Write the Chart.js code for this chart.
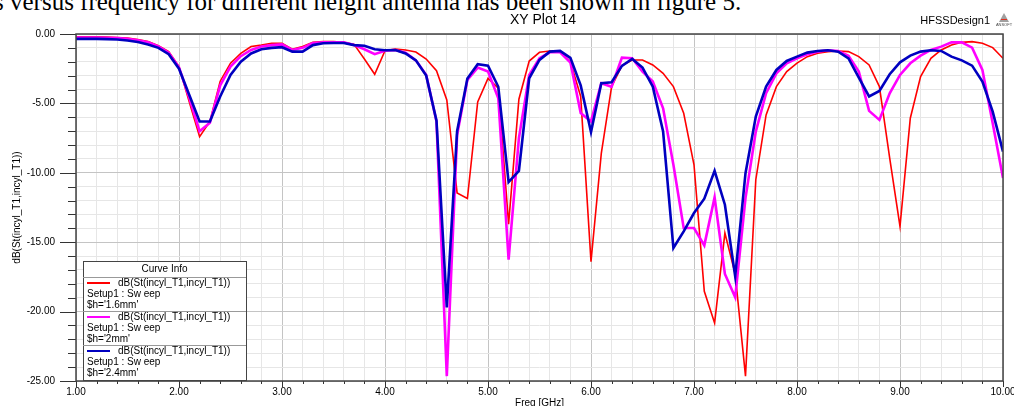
<!DOCTYPE html>
<html>
<head>
<meta charset="utf-8">
<script src="https://cdn.jsdelivr.net/npm/chart.js@4.4.1/dist/chart.umd.min.js"></script>
<style>
	html, body { margin: 0; padding: 0; background: #fff; overflow: hidden; width: 1014px; height: 406px; position: relative; }
	#caption { position: absolute; left: -6px; top: -11px; font: 25px/25px "Liberation Serif", serif; color: #000; white-space: nowrap; }
	#wrap { position: absolute; left: 0; top: 0; width: 1030px; height: 420px; }
</style>
</head>
<body>
<div id="caption">s versus frequency for different height antenna has been shown in figure 5.</div>
<div id="wrap"><canvas id="chart1" width="1030" height="420"></canvas></div>
<script>
const freq = [
	1.0, 1.1, 1.2, 1.3, 1.4, 1.5, 1.6, 1.7, 1.8, 1.9,
	2.0, 2.1, 2.2, 2.3, 2.4, 2.5, 2.6, 2.7, 2.8, 2.9,
	3.0, 3.1, 3.2, 3.3, 3.4, 3.5, 3.6, 3.7, 3.8, 3.9,
	4.0, 4.1, 4.2, 4.3, 4.4, 4.5, 4.6, 4.7, 4.8, 4.9,
	5.0, 5.1, 5.2, 5.3, 5.4, 5.5, 5.6, 5.7, 5.8, 5.9,
	6.0, 6.1, 6.2, 6.3, 6.4, 6.5, 6.6, 6.7, 6.8, 6.9,
	7.0, 7.1, 7.2, 7.3, 7.4, 7.5, 7.6, 7.7, 7.8, 7.9,
	8.0, 8.1, 8.2, 8.3, 8.4, 8.5, 8.6, 8.7, 8.8, 8.9,
	9.0, 9.1, 9.2, 9.3, 9.4, 9.5, 9.6, 9.7, 9.8, 9.9,
	10.0,
];

// h = 1.6mm
const s11_16 = [
	-0.2, -0.2, -0.2, -0.22, -0.25, -0.3, -0.4, -0.55, -0.84, -1.27,
	-2.35, -4.9, -7.4, -6.3, -3.4, -2.1, -1.4, -0.9, -0.8, -0.67,
	-0.67, -1.1, -0.9, -0.6, -0.55, -0.55, -0.6, -0.75, -1.8, -2.9,
	-1.2, -1.08, -1.15, -1.3, -1.8, -2.65, -4.75, -11.45, -11.85, -4.9,
	-3.2, -3.9, -13.7, -4.7, -1.95, -1.32, -1.22, -1.27, -2.0, -4.5,
	-16.4, -8.6, -3.8, -2.28, -1.87, -1.87, -2.23, -2.83, -3.79, -5.71,
	-9.42, -18.54, -20.82, -14.34, -17.3, -24.65, -10.5, -5.83, -3.79, -2.71,
	-2.1, -1.63, -1.39, -1.27, -1.22, -1.27, -1.63, -2.23, -3.79, -8.94,
	-13.86, -6.07, -3.07, -1.75, -1.15, -0.79, -0.6, -0.55, -0.67, -0.98,
	-1.75,
];

// h = 2mm
const s11_20 = [
	-0.25, -0.25, -0.25, -0.27, -0.3, -0.35, -0.45, -0.6, -0.9, -1.35,
	-2.4, -4.6, -7.0, -6.4, -3.7, -2.35, -1.6, -1.15, -0.9, -0.8,
	-0.75, -1.15, -1.0, -0.65, -0.6, -0.6, -0.6, -0.8, -1.1, -1.45,
	-1.2, -1.15, -1.35, -1.9, -2.95, -6.3, -24.65, -7.27, -3.3, -2.42,
	-2.7, -4.63, -16.26, -7.5, -2.95, -1.75, -1.32, -1.32, -2.05, -5.7,
	-6.3, -3.55, -3.8, -1.7, -1.75, -2.71, -3.43, -5.35, -9.42, -13.98,
	-13.98, -15.23, -11.77, -17.29, -18.97, -11.82, -7.03, -4.27, -2.83, -2.11,
	-1.75, -1.46, -1.27, -1.17, -1.22, -1.56, -2.71, -5.54, -6.19, -4.27,
	-2.95, -2.11, -1.56, -1.15, -0.91, -0.6, -0.6, -0.98, -2.59, -6.43,
	-10.38,
];

// h = 2.4mm
const s11_24 = [
	-0.35, -0.35, -0.35, -0.37, -0.4, -0.47, -0.58, -0.75, -1.0, -1.45,
	-2.5, -4.4, -6.3, -6.3, -4.5, -2.95, -2.0, -1.4, -1.1, -1.0,
	-0.95, -1.27, -1.27, -0.8, -0.67, -0.65, -0.65, -0.8, -0.85, -1.1,
	-1.17, -1.15, -1.4, -1.9, -3.0, -6.25, -19.7, -7.0, -3.2, -2.18,
	-2.28, -3.8, -10.67, -9.86, -3.19, -1.87, -1.27, -1.22, -1.72, -3.7,
	-7.07, -3.55, -3.48, -2.3, -1.8, -2.42, -3.79, -7.03, -15.42, -14.22,
	-12.9, -11.87, -9.86, -12.3, -17.46, -10.03, -5.95, -3.79, -2.59, -1.94,
	-1.63, -1.34, -1.22, -1.17, -1.27, -1.75, -3.14, -4.5, -4.1, -2.9,
	-2.04, -1.56, -1.27, -1.17, -1.22, -1.63, -1.9, -2.28, -3.43, -5.59,
	-8.47,
];

const curveNames = ["$h='1.6mm'", "$h='2mm'", "$h='2.4mm'"];
const curveColors = ["#ff0000", "#ff00ff", "#0000c0"];

const FONT = "'Liberation Sans', Arial, sans-serif";

function isWhole(v) {
	return Math.abs(v - Math.round(v)) < 1e-6;
}

function toPoints(ys) {
	return freq.map((f, i) => ({ x: f, y: ys[i] }));
}

// plot frame, outside ticks, title, logo and the "Curve Info" box
const hfssDecor = {
	id: "hfssDecor",
	afterDraw(chart) {
		const ctx = chart.ctx;
		const area = chart.chartArea;
		const xs = chart.scales.x;
		const ys = chart.scales.y;
		ctx.save();

		ctx.strokeStyle = "#333";
		ctx.lineWidth = 1;
		ys.ticks.forEach((t) => {
			const y = Math.round(ys.getPixelForValue(t.value)) + 0.5;
			const len = isWhole(t.value / 5) ? 16 : 8;
			ctx.beginPath();
			ctx.moveTo(area.left - len, y);
			ctx.lineTo(area.left, y);
			ctx.stroke();
		});
		xs.ticks.forEach((t) => {
			const x = Math.round(xs.getPixelForValue(t.value)) + 0.5;
			const len = isWhole(t.value) ? 6 : 3;
			ctx.beginPath();
			ctx.moveTo(x, area.bottom);
			ctx.lineTo(x, area.bottom + len);
			ctx.stroke();
		});

		ctx.strokeStyle = "#444";
		ctx.lineWidth = 1.5;
		ctx.strokeRect(area.left, area.top, area.right - area.left, area.bottom - area.top);

		ctx.fillStyle = "#000";
		ctx.textBaseline = "middle";
		ctx.textAlign = "center";
		ctx.font = "14px " + FONT;
		ctx.fillText("XY Plot 14", 543, 20);
		ctx.textAlign = "right";
		ctx.font = "11px " + FONT;
		ctx.fillText("HFSSDesign1", 990, 21);

		// small Ansoft mark
		ctx.fillStyle = "#a0a0a0";
		ctx.beginPath();
		ctx.moveTo(1004, 13);
		ctx.lineTo(999, 22);
		ctx.lineTo(1009, 22);
		ctx.closePath();
		ctx.fill();
		ctx.strokeStyle = "#e03020";
		ctx.lineWidth = 1;
		ctx.beginPath();
		ctx.moveTo(1001, 19.5);
		ctx.lineTo(1007, 19.5);
		ctx.stroke();
		ctx.fillStyle = "#444";
		ctx.font = "4px " + FONT;
		ctx.textAlign = "center";
		ctx.fillText("ANSOFT", 1004, 25);

		// legend box
		const bx = 83, by = 261, bw = 163, bh = 119;
		ctx.fillStyle = "#fff";
		ctx.fillRect(bx, by, bw, bh);
		ctx.strokeStyle = "#444";
		ctx.lineWidth = 1;
		ctx.strokeRect(bx + 0.5, by + 0.5, bw, bh);
		ctx.fillStyle = "#000";
		ctx.font = "10px " + FONT;
		ctx.textAlign = "center";
		ctx.fillText("Curve Info", bx + bw / 2, by + 8);
		const rows = [277, 311, 345];
		rows.forEach((top, i) => {
			ctx.strokeStyle = "#999";
			ctx.beginPath();
			ctx.moveTo(bx, top + 0.5);
			ctx.lineTo(bx + bw, top + 0.5);
			ctx.stroke();
			ctx.strokeStyle = curveColors[i];
			ctx.lineWidth = 2;
			ctx.beginPath();
			ctx.moveTo(87, top + 6);
			ctx.lineTo(110, top + 6);
			ctx.stroke();
			ctx.lineWidth = 1;
			ctx.fillStyle = "#000";
			ctx.textAlign = "left";
			ctx.fillText("dB(St(incyl_T1,incyl_T1))", 118, top + 6);
			ctx.fillText("Setup1 : Sw eep", 87, top + 17);
			ctx.fillText(curveNames[i], 87, top + 28);
		});
		ctx.restore();
	},
};

new Chart(document.getElementById("chart1"), {
	type: "line",
	data: {
		datasets: [
			{
				label: curveNames[0],
				data: toPoints(s11_16),
				borderColor: curveColors[0],
				borderWidth: 1.6,
				pointRadius: 0,
				order: 3,
			},
			{
				label: curveNames[1],
				data: toPoints(s11_20),
				borderColor: curveColors[1],
				borderWidth: 2.6,
				pointRadius: 0,
				order: 2,
			},
			{
				label: curveNames[2],
				data: toPoints(s11_24),
				borderColor: curveColors[2],
				borderWidth: 2.6,
				pointRadius: 0,
				order: 1,
			},
		],
	},
	options: {
		responsive: false,
		animation: false,
		layout: {
			padding: { left: 0, right: 27, top: 34, bottom: 0 },
		},
		plugins: {
			legend: { display: false },
			tooltip: { enabled: false },
		},
		scales: {
			x: {
				type: "linear",
				min: 1,
				max: 10,
				afterFit: (s) => {
					s.height = 39;
				},
				grid: {
					drawTicks: false,
					color: (c) => (isWhole(c.tick.value) ? "#c4c4c4" : "#e6e6e6"),
				},
				border: { display: false },
				ticks: {
					stepSize: 0.2,
					autoSkip: false,
					maxRotation: 0,
					padding: 5,
					color: "#000",
					font: { family: FONT, size: 10 },
					callback: (v) => (isWhole(v) ? Number(v).toFixed(2) : ""),
				},
				title: {
					display: true,
					text: "Freq [GHz]",
					color: "#000",
					font: { family: FONT, size: 10 },
					padding: { top: 0, bottom: 11 },
				},
			},
			y: {
				min: -25,
				max: 0,
				afterFit: (s) => {
					s.width = 76;
				},
				grid: {
					drawTicks: false,
					color: (c) => (isWhole(c.tick.value / 5) ? "#c4c4c4" : "#e6e6e6"),
				},
				border: { display: false },
				ticks: {
					stepSize: 1,
					autoSkip: false,
					padding: 21,
					color: "#000",
					font: { family: FONT, size: 10 },
					callback: (v) => (isWhole(v / 5) ? Number(v).toFixed(2) : ""),
				},
				title: {
					display: true,
					text: "dB(St(incyl_T1,incyl_T1))",
					color: "#000",
					font: { family: FONT, size: 10 },
					padding: { top: 11, bottom: 0 },
				},
			},
		},
	},
	plugins: [hfssDecor],
});
</script>
</body>
</html>
